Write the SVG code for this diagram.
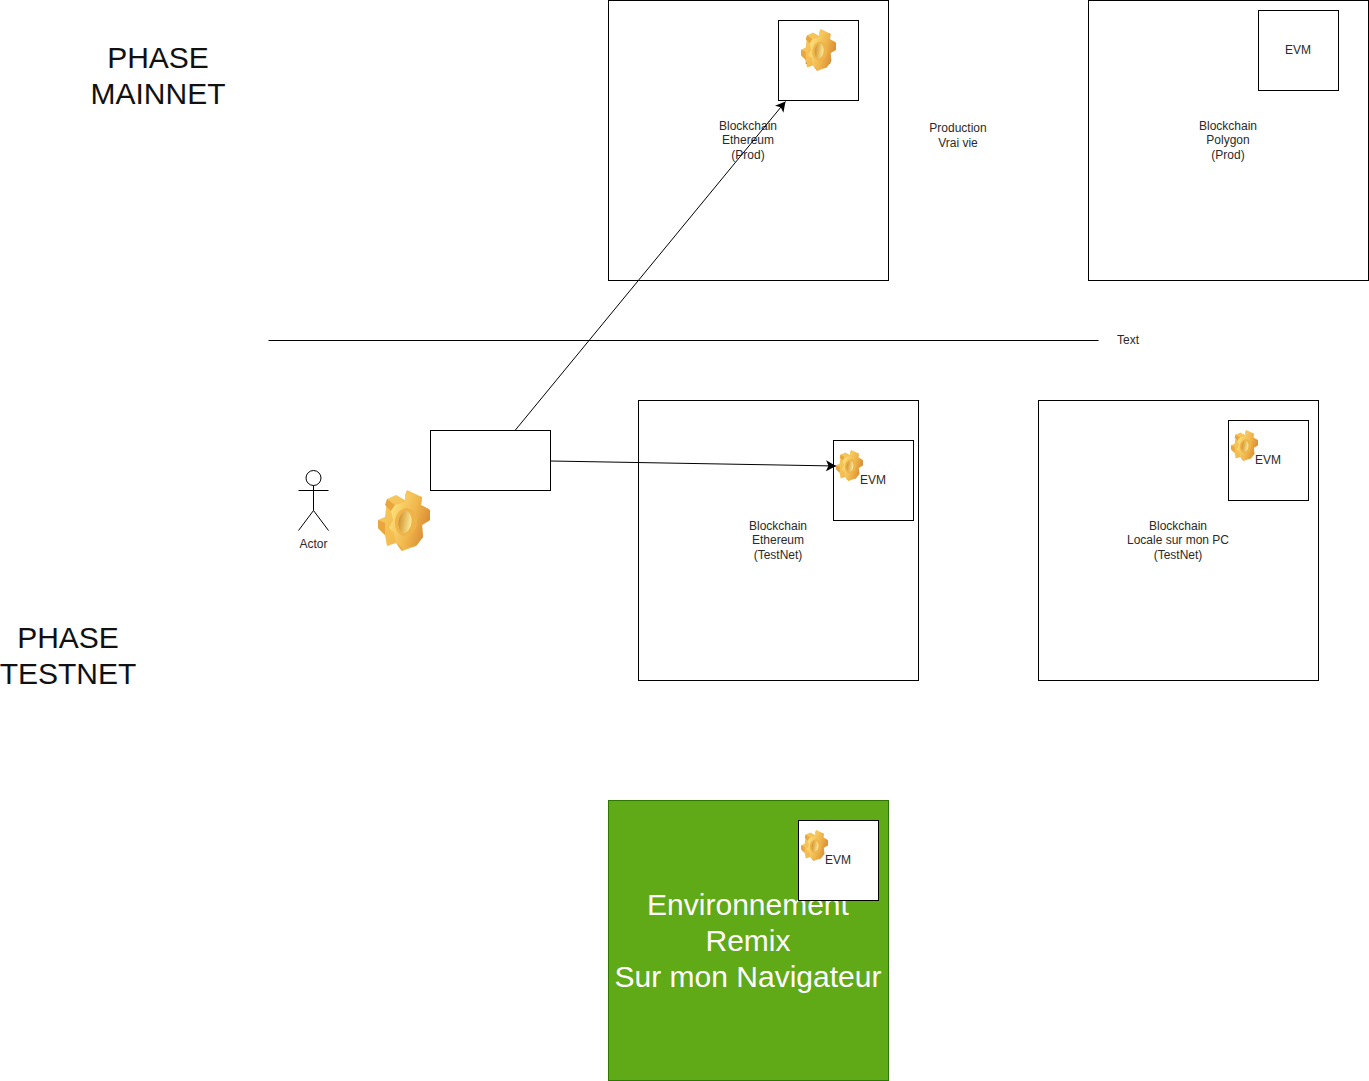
<svg xmlns="http://www.w3.org/2000/svg" xmlns:xlink="http://www.w3.org/1999/xlink" width="1369" height="1081" viewBox="0 0 1369 1081">
<style>
.b{fill:#fff;stroke:#000;stroke-width:1}
.l{fill:none;stroke:#000;stroke-width:1}
text{font-family:"Liberation Sans",Arial,sans-serif;text-anchor:middle}
.s{font-size:12px;fill:#2a2a2a}
.h{font-size:30px;fill:#111}
.w{font-size:30px;fill:#fff}
</style>
<defs>
<linearGradient id="gf" x1="0" y1="0.3" x2="1" y2="0.7"><stop offset="0" stop-color="#fde27c"/><stop offset="0.55" stop-color="#f0b64c"/><stop offset="1" stop-color="#d4842e"/></linearGradient>
<linearGradient id="gs" x1="0" y1="0" x2="1" y2="1"><stop offset="0" stop-color="#f8cd62"/><stop offset="1" stop-color="#eeae42"/></linearGradient>
<linearGradient id="gh" x1="0" y1="0" x2="1" y2="0"><stop offset="0" stop-color="#d2932f"/><stop offset="1" stop-color="#fdeb9a"/></linearGradient>
<symbol id="gear" viewBox="0 0 52 61" preserveAspectRatio="none">
<path fill="url(#gs)" d="M27 5L29 0L44 7L43 15L51 19L52 30L44 35L45 47L38 56L24 61L18 53L9 56L7 45L0 38V30L7 27L9 9L18 5L27 10Z"/>
<path fill="#e9a63e" d="M0 30L7 33L7 45L0 38ZM9 9L17 15L13 21L7 15ZM18 53L24 58V61Z"/>
<path fill="url(#gf)" d="M27 4L44 7L43 15L52 20V30L44 35L45 47L38 56L24 58L18 53L16 43L11 38L15 30L13 21L17 15L27 12Z"/>
<ellipse cx="28" cy="32" rx="11" ry="14" fill="#eeb44a" transform="rotate(8 28 32)"/>
<ellipse cx="27" cy="32" rx="6.5" ry="11" fill="url(#gh)" transform="rotate(8 27 32)"/>
</symbol>
<marker id="arr" markerUnits="userSpaceOnUse" markerWidth="12" markerHeight="12" refX="10" refY="5.5" orient="auto"><path d="M10 5.5L0 11L2.5 5.5L0 0Z" fill="#000"/></marker>
</defs>
<g id="phase-mainnet"><text class="h" x="158" y="67.5">PHASE</text><text class="h" x="158" y="103.5">MAINNET</text></g>
<g id="phase-testnet"><text class="h" x="68" y="647.5">PHASE</text><text class="h" x="68" y="683.5">TESTNET</text></g>
<g id="eth-prod"><rect class="b" x="608.5" y="0.5" width="280" height="280"/><text class="s" x="748" y="130">Blockchain</text><text class="s" x="748" y="144">Ethereum</text><text class="s" x="748" y="159">(Prod)</text></g>
<g id="evm-eth-prod"><rect class="b" x="778.5" y="20.5" width="80" height="80"/><text class="s" x="818" y="64">EVM</text><use xlink:href="#gear" href="#gear" x="801" y="29" width="35" height="42"/></g>
<g id="production"><text class="s" x="958" y="132">Production</text><text class="s" x="958" y="147">Vrai vie</text></g>
<g id="polygon-prod"><rect class="b" x="1088.5" y="0.5" width="280" height="280"/><text class="s" x="1228" y="130">Blockchain</text><text class="s" x="1228" y="144">Polygon</text><text class="s" x="1228" y="159">(Prod)</text></g>
<g id="evm-polygon"><rect class="b" x="1258.5" y="10.5" width="80" height="80"/><text class="s" x="1298" y="54">EVM</text></g>
<g id="separator-label"><text class="s" x="1128" y="344">Text</text></g>
<g id="actor"><circle class="b" cx="313.5" cy="478" r="7.5"/><path class="l" d="M313.5 485.5V510.5M298.5 490.5H328.5M298.5 530.5L313.5 510.5L328.5 530.5"/><text class="s" x="313.5" y="548">Actor</text></g>
<g id="gear-main"><use xlink:href="#gear" href="#gear" x="378" y="490" width="52" height="61"/></g>
<g id="box-source"><rect class="b" x="430.5" y="430.5" width="120" height="60"/></g>
<g id="eth-testnet"><rect class="b" x="638.5" y="400.5" width="280" height="280"/><text class="s" x="778" y="530">Blockchain</text><text class="s" x="778" y="544">Ethereum</text><text class="s" x="778" y="559">(TestNet)</text></g>
<g id="evm-eth-testnet"><rect class="b" x="833.5" y="440.5" width="80" height="80"/><text class="s" x="873" y="484">EVM</text><use xlink:href="#gear" href="#gear" x="836" y="450" width="27" height="31"/></g>
<g id="local-testnet"><rect class="b" x="1038.5" y="400.5" width="280" height="280"/><text class="s" x="1178" y="530">Blockchain</text><text class="s" x="1178" y="544">Locale sur mon PC</text><text class="s" x="1178" y="559">(TestNet)</text></g>
<g id="evm-local"><rect class="b" x="1228.5" y="420.5" width="80" height="80"/><text class="s" x="1268" y="464">EVM</text><use xlink:href="#gear" href="#gear" x="1231" y="430" width="27" height="31"/></g>
<g id="remix"><rect x="608.5" y="800.5" width="280" height="280" fill="#60a917" stroke="#2d7600"/><text class="w" x="748" y="915">Environnement</text><text class="w" x="748" y="951">Remix</text><text class="w" x="748" y="987">Sur mon Navigateur</text></g>
<g id="evm-remix"><rect class="b" x="798.5" y="820.5" width="80" height="80"/><text class="s" x="838" y="864">EVM</text><use xlink:href="#gear" href="#gear" x="801" y="830" width="27" height="31"/></g>
<g id="connectors">
<path class="l" d="M268.5 340.5H1098.5"/>
<path class="l" d="M515 430.5L785.5 101.5" marker-end="url(#arr)"/>
<path class="l" d="M550.5 461L836 466" marker-end="url(#arr)"/>
</g>
</svg>
